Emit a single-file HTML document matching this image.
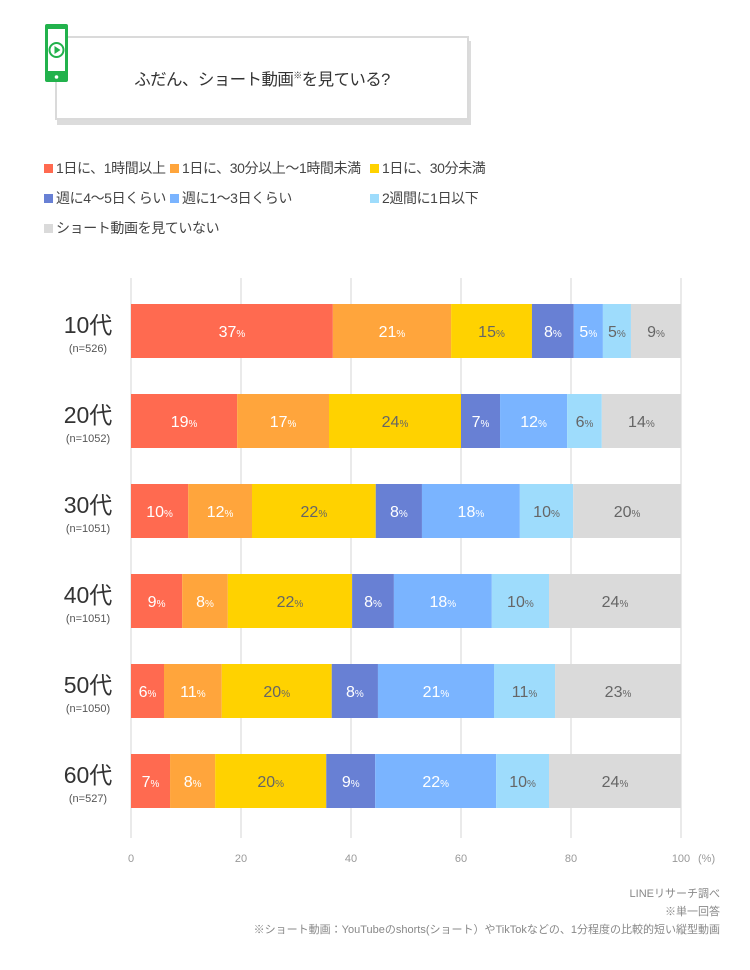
<!DOCTYPE html>
<html><head><meta charset="utf-8"><style>
body{margin:0;background:#fff;width:750px;height:970px;overflow:hidden;font-family:"Liberation Sans","Noto Sans CJK JP",sans-serif;color:#444}
.abs{position:absolute}
</style></head><body>
<div class="abs" style="left:55px;top:36px;width:410px;height:80px;border:2px solid #dadada;box-shadow:2px 5px 0 #dcdcdc;background:#fff"></div>
<svg class="abs" style="left:44px;top:23px" width="26" height="60"><rect x="1" y="1" width="23" height="58" rx="2" fill="#22b24c"/><rect x="4" y="6" width="17" height="42" fill="#fff"/><circle cx="12.5" cy="27" r="7" fill="none" stroke="#22b24c" stroke-width="2"/><path d="M10.5 23 L16.5 27 L10.5 31Z" fill="#22b24c"/><circle cx="12.5" cy="54" r="1.8" fill="#fff"/></svg>
<div class="abs" style="left:55px;top:66px;width:414px;text-align:center;font-size:16.5px;letter-spacing:-0.6px;color:#333">ふだん、ショート動画<sup style="font-size:9px">※</sup>を見ている?</div>
<div id="legend"></div>
<svg id="chart" class="abs" style="left:0;top:0" width="750" height="970"></svg>
<div class="abs" style="right:30px;top:885px;font-size:11px;color:#888;text-align:right;line-height:18px">LINEリサーチ調べ<br>※単一回答<br>※ショート動画：YouTubeのshorts(ショート）やTikTokなどの、1分程度の比較的短い縦型動画</div>
<script>
const categories=["10代","20代","30代","40代","50代","60代"];
const sampleSizes=["(n=526)","(n=1052)","(n=1051)","(n=1051)","(n=1050)","(n=527)"];
const seriesNames=["1日に、1時間以上","1日に、30分以上～1時間未満","1日に、30分未満","週に4～5日くらい","週に1～3日くらい","2週間に1日以下","ショート動画を見ていない"];
const s1=[36.7,19.3,10.4,9.3,6.0,7.1];
const s2=[21.5,16.7,11.6,8.3,10.5,8.2];
const s3=[14.7,24.0,22.5,22.6,20.0,20.2];
const s4=[7.6,7.1,8.4,7.6,8.4,8.9];
const s5=[5.3,12.2,17.8,17.8,21.1,22.0];
const s6=[5.1,6.3,9.7,10.4,11.1,9.6];
const s7=[9.1,14.4,19.6,24.0,22.9,24.0];
const printed1=[37,19,10,9,6,7];
const printed2=[21,17,12,8,11,8];
const printed3=[15,24,22,22,20,20];
const printed4=[8,7,8,8,8,9];
const printed5=[5,12,18,18,21,22];
const printed6=[5,6,10,10,11,10];
const printed7=[9,14,20,24,23,24];
const ticks=[0,20,40,60,80,100];
const colors=["#ff6a50","#ffa53c","#ffd200","#6880d4","#7ab4ff","#9edcfc","#dadada"];
const textColors=["#fff","#fff","#666","#fff","#fff","#666","#666"];
const series=[s1,s2,s3,s4,s5,s6,s7];
const printed=[printed1,printed2,printed3,printed4,printed5,printed6,printed7];
const NS="http://www.w3.org/2000/svg";
const svg=document.getElementById('chart');
const x=v=>131+v*5.5;
const yc=i=>331+i*90;
function mk(t,a){const e=document.createElementNS(NS,t);for(const k in a)e.setAttribute(k,a[k]);svg.appendChild(e);return e;}
ticks.forEach(t=>{
 const g=mk('line',{x1:x(t),x2:x(t),y1:278,y2:838,stroke:'#d4d4d4','stroke-width':1});
 
 
 const l=mk('text',{x:x(t),y:862,'text-anchor':'middle','font-size':11,fill:'#999'});
 l.textContent=t;
 
 
});
const pu=mk('text',{x:698,y:862,'font-size':11,fill:'#999'});pu.textContent='(%)';


categories.forEach((c,i)=>{
 const cl=mk('text',{x:88,y:yc(i)+2,'text-anchor':'middle','font-size':23,fill:'#333'});cl.textContent=c;
 
 
 const nl=mk('text',{x:88,y:yc(i)+21,'text-anchor':'middle','font-size':11,fill:'#555'});nl.textContent=sampleSizes[i];
 
 
 let cum=0;
 series.forEach((s,k)=>{
  const v=s[i];
  const r=mk('rect',{x:x(cum),y:yc(i)-27,width:v*5.5,height:54,fill:colors[k]});
  
  
  const t=mk('text',{x:x(cum+v/2),y:yc(i)+6,'text-anchor':'middle','font-size':16,fill:textColors[k]});
  t.innerHTML=printed[k][i]+'<tspan font-size="10">%</tspan>';
  
  
  cum+=v;
 });
});
const leg=document.getElementById('legend');
const lx=[44,170,370],ly=[168,198,228];
seriesNames.forEach((n,k)=>{
 const row=k<3?0:(k<6?1:2);
 const col=k<3?k:(k<6?(k===5?2:k-3):0);
 const d=document.createElement('div');
 d.className='abs';
 d.style.cssText=`left:${lx[col]}px;top:${ly[row]-10}px;font-size:14px;letter-spacing:-0.4px;color:#444;white-space:nowrap`;
 d.innerHTML=`<span style="display:inline-block;width:9px;height:9px;background:${colors[k]};margin-right:3px;vertical-align:0px"></span>${n}`;
 
 
 leg.appendChild(d);
});
</script>
</body></html>
